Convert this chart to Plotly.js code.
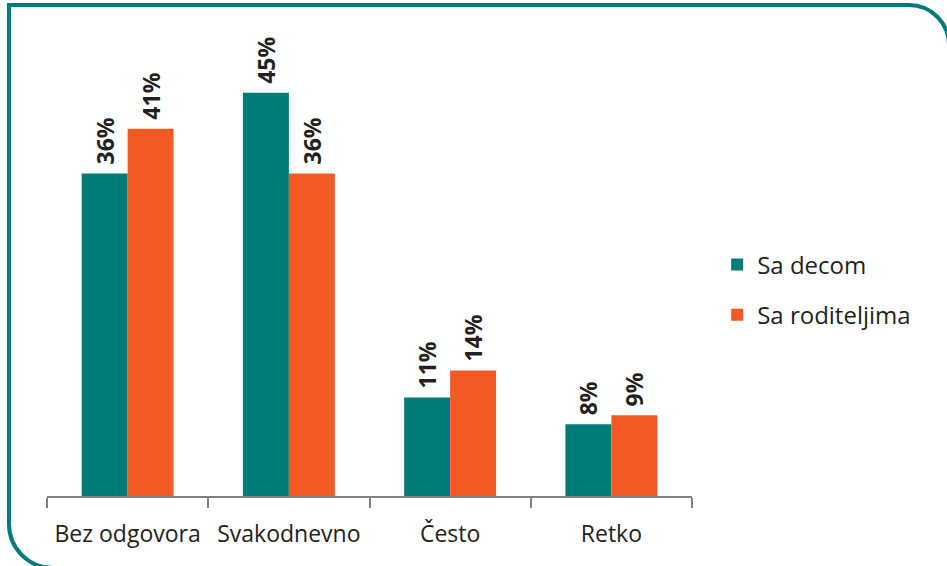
<!DOCTYPE html>
<html>
<head>
<meta charset="utf-8">
<script src="https://cdn.plot.ly/plotly-3.0.1.min.js"></script>
<style>
  html, body { margin:0; padding:0; width:947px; height:566px; overflow:hidden; background:#fff; }
  #frame { position:absolute; left:7px; top:3px; width:944px; height:567px; box-sizing:border-box;
           border:4px solid #007B7A; border-radius:0 42px 0 46px; }
  #chart { position:absolute; left:0; top:0; width:947px; height:566px; }
</style>
</head>
<body>
<div id="frame"></div>
<div id="chart"></div>
<script>
const categories = ["Bez odgovora", "Svakodnevno", "Često", "Retko"];
const seriesNames = ["Sa decom", "Sa roditeljima"];
const saDecom = [36, 45, 11, 8];
const saRoditeljima = [41, 36, 14, 9];
const colors = ["#007B7A", "#F15A22"];

const labelFont = {family: "Open Sans, sans-serif", size: 23, color: "#231F20", weight: 700};

function mk(name, vals, color, grp) {
  return {
    type: "bar", name: name, x: categories, y: vals,
    marker: {color: color, line: {width: 0}},
    text: vals.map(v => "\u00a0" + v + "%"), textposition: "outside", textangle: -90,
    constraintext: "none",
    textfont: labelFont, cliponaxis: false, legendgroup: grp,
    hoverinfo: "skip"
  };
}

const data = [
  mk(seriesNames[0], saDecom, colors[0], "a"),
  mk(seriesNames[1], saRoditeljima, colors[1], "b")
];

const layout = {
  width: 947, height: 566,
  margin: {l: 47, r: 255, t: 48, b: 70, pad: 0},
  paper_bgcolor: "rgba(0,0,0,0)", plot_bgcolor: "rgba(0,0,0,0)",
  barmode: "group", bargap: 0.43, bargroupgap: 0,
  font: {family: "Open Sans, sans-serif", color: "#231F20"},
  xaxis: {
    type: "category", showline: true, linecolor: "#808080", linewidth: 2,
    ticks: "outside", tickson: "boundaries", ticklen: 10, tickwidth: 2, tickcolor: "#808080",
    tickangle: 0, automargin: false,
    tickfont: {size: 23, color: "#231F20", family: "Open Sans, sans-serif"},
    ticklabelstandoff: 16, showgrid: false, zeroline: false, fixedrange: true
  },
  yaxis: {range: [0, 50], visible: false, showgrid: false, zeroline: false, fixedrange: true},
  showlegend: true,
  legend: {
    x: 1.039, xanchor: "left", y: 0.46, yanchor: "middle",
    font: {size: 24, color: "#231F20", family: "Open Sans, sans-serif"},
    tracegroupgap: 16, itemwidth: 30, bgcolor: "rgba(0,0,0,0)"
  }
};

Plotly.newPlot("chart", data, layout, {displayModeBar: false, staticPlot: true});
</script>
</body>
</html>
